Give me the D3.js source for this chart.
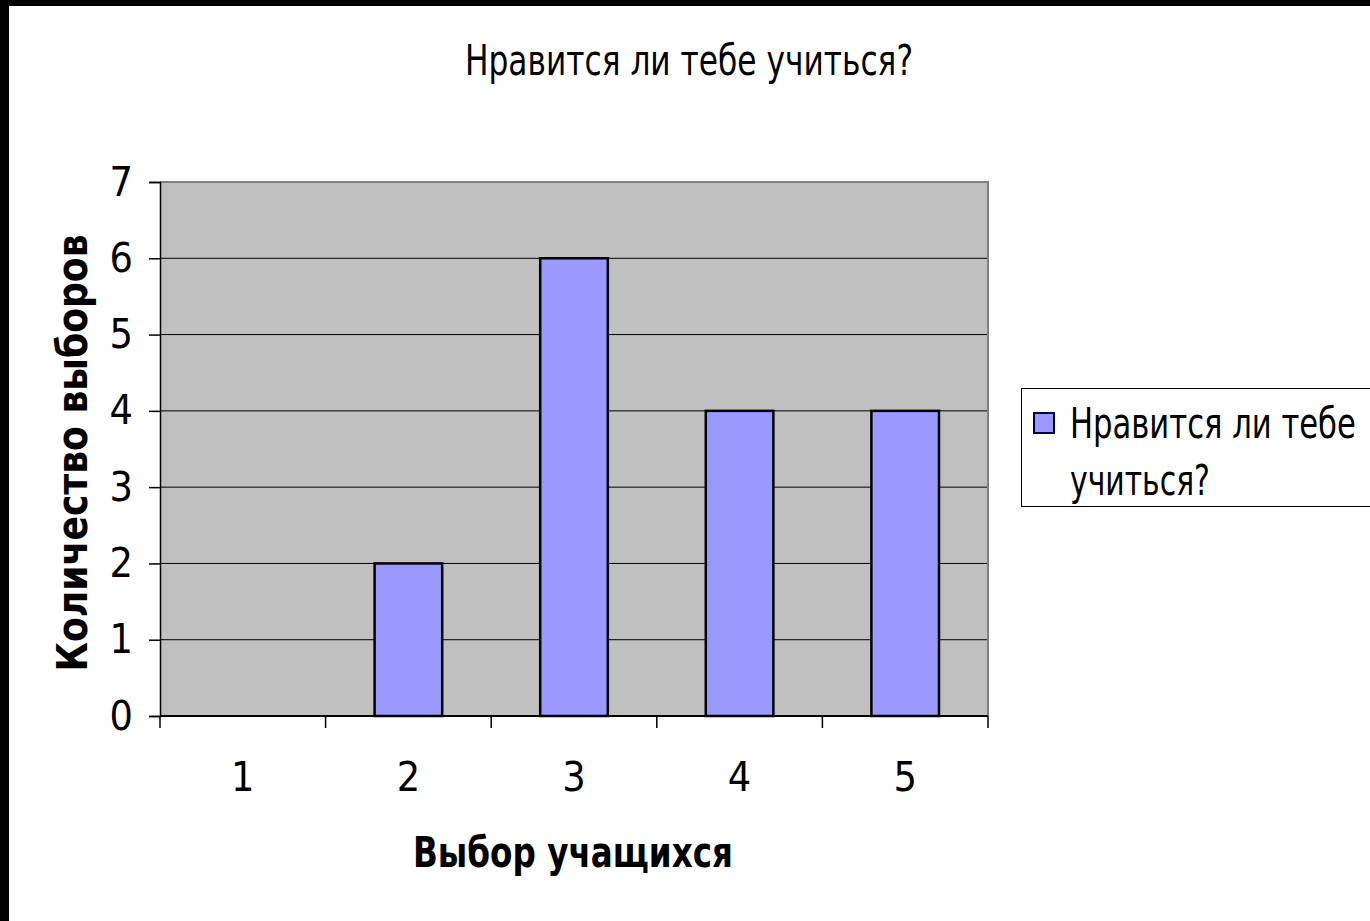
<!DOCTYPE html>
<html><head><meta charset="utf-8">
<script src="https://cdn.jsdelivr.net/npm/d3@7"></script>
<style>html,body{margin:0;padding:0;background:#fff;overflow:hidden}</style>
</head><body>
<svg id="c" width="1370" height="921"></svg>
<script>
const categories = ["1","2","3","4","5"];
const values = [0, 2, 6, 4, 4];
const yTicks = [0,1,2,3,4,5,6,7];
const title = "Нравится ли тебе учиться?";
const xTitle = "Выбор учащихся";
const yTitle = "Количество выборов";
const legendLines = ["Нравится ли тебе", "учиться?"];

const svg = d3.select("#c");
const FONT = "'DejaVu Sans Condensed','DejaVu Sans',sans-serif";
svg.append("rect").attr("width",1370).attr("height",921).attr("fill","#fff");
// black frame (top, left)
svg.append("rect").attr("x",0).attr("y",0).attr("width",1370).attr("height",6).attr("fill","#000");
svg.append("rect").attr("x",0).attr("y",0).attr("width",9).attr("height",921).attr("fill","#000");

const L=160, R=988, T=182, B=716;
const x = d3.scaleBand().domain(categories).range([L,R]).padding(0);
const y = d3.scaleLinear().domain([0,7]).range([B,T]);

// plot area
svg.append("rect").attr("x",L).attr("y",T).attr("width",R-L).attr("height",B-T).attr("fill","#c0c0c0");
// gridlines
svg.append("g").selectAll("line").data(yTicks.filter(d=>d>0&&d<7)).join("line")
  .attr("x1",L).attr("x2",R).attr("y1",d=>y(d)).attr("y2",d=>y(d))
  .attr("stroke","#000").attr("stroke-width",1);
// border top/right grey
svg.append("path").attr("d",`M${L},${T}H${R}V${B}`).attr("fill","none").attr("stroke","#808080").attr("stroke-width",2);

// bars
const bw = x.bandwidth()/2.45;
svg.append("g").selectAll("rect").data(values.map((v,i)=>({c:categories[i],v})).filter(d=>d.v>0)).join("rect")
  .attr("x",d=>x(d.c)+x.bandwidth()/2-bw/2)
  .attr("y",d=>y(d.v))
  .attr("width",bw)
  .attr("height",d=>y(0)-y(d.v))
  .attr("fill","#9999ff").attr("stroke","#000").attr("stroke-width",2.5);

// y axis
const yAxis = d3.axisLeft(y).tickValues(yTicks).tickSize(11).tickPadding(16).tickFormat(d3.format("d"));
const gy = svg.append("g").attr("transform",`translate(${L},0)`).call(yAxis);
gy.select(".domain").attr("stroke","#000").attr("stroke-width",1.5);
gy.selectAll(".tick line").attr("stroke","#000").attr("stroke-width",1.5);
gy.selectAll(".tick text").attr("font-family",FONT).attr("font-size",41).attr("fill","#000");

// x axis
const xAxis = d3.axisBottom(x).tickSize(0).tickPadding(46);
const gx = svg.append("g").attr("transform",`translate(0,${B})`).call(xAxis);
gx.select(".domain").attr("d",`M${L},0H${R}`).attr("stroke","#000").attr("stroke-width",2);
gx.selectAll(".tick text").attr("font-family",FONT).attr("font-size",41).attr("fill","#000");
// x tick marks at band boundaries
const bounds = categories.map(c=>x(c)).concat([R]);
svg.append("g").selectAll("line").data(bounds).join("line")
  .attr("x1",d=>d).attr("x2",d=>d).attr("y1",B).attr("y2",B+12)
  .attr("stroke","#000").attr("stroke-width",1.5);

// title
svg.append("text").attr("x",689).attr("y",75).attr("text-anchor","middle")
  .attr("font-family",FONT).attr("font-size",42).attr("textLength",448).attr("lengthAdjust","spacingAndGlyphs")
  .text(title);
// x title
svg.append("text").attr("x",573).attr("y",867).attr("text-anchor","middle")
  .attr("font-family",FONT).attr("font-weight","bold").attr("font-size",43).attr("textLength",320).attr("lengthAdjust","spacingAndGlyphs")
  .text(xTitle);
// y title
svg.append("text").attr("transform","translate(87,453) rotate(-90)").attr("text-anchor","middle")
  .attr("font-family",FONT).attr("font-weight","bold").attr("font-size",43).attr("textLength",437).attr("lengthAdjust","spacingAndGlyphs")
  .text(yTitle);

// legend
svg.append("rect").attr("x",1021.5).attr("y",388.5).attr("width",400).attr("height",118).attr("fill","#fff").attr("stroke","#000").attr("stroke-width",1);
svg.append("rect").attr("x",1034).attr("y",413).attr("width",20).attr("height",20).attr("fill","#9999ff").attr("stroke","#000040").attr("stroke-width",2);
const lw=[286,140];
svg.append("g").selectAll("text").data(legendLines).join("text")
  .attr("font-family",FONT).attr("font-size",43)
  .text(d=>d)
  .each(function(d,i){
    const w = this.getComputedTextLength();
    const s = lw[i]/w;
    d3.select(this).attr("transform",`translate(1070,${438+i*57}) scale(${s},1)`);
  });
</script>
</body></html>
